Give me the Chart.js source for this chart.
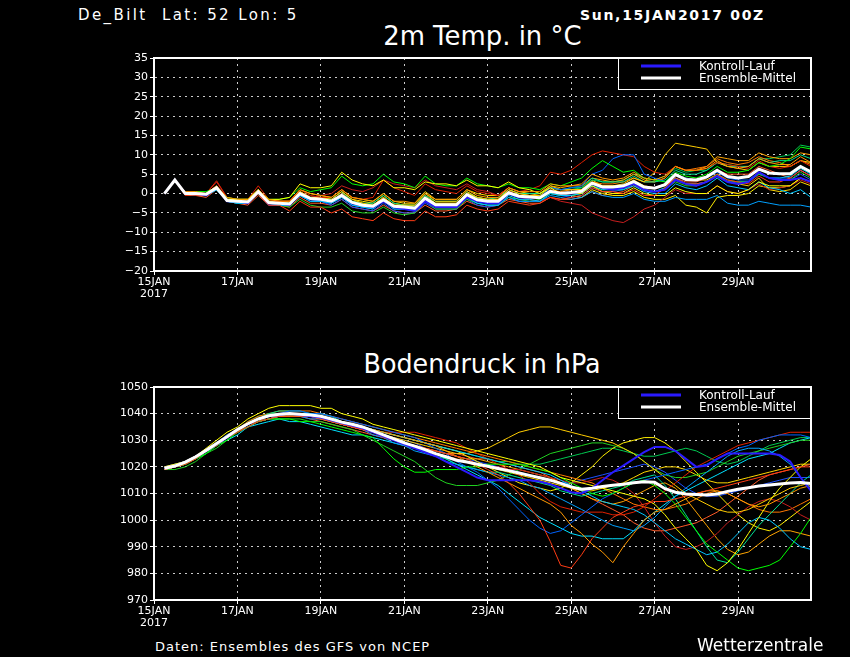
<!DOCTYPE html>
<html>
<head>
<meta charset="utf-8">
<script src="https://cdn.jsdelivr.net/npm/chart.js@4.4.1/dist/chart.umd.min.js"></script>
<style>
  html, body { margin: 0; padding: 0; background: #000; }
  #page { position: relative; width: 850px; height: 657px; background: #000; overflow: hidden;
          font-family: "DejaVu Sans", sans-serif; color: #fff; }
  .txt { position: absolute; white-space: pre; line-height: 1; }
  .title { position: absolute; left: 154px; width: 657px; text-align: center; line-height: 1; font-size: 27px; }
  .title span { display: inline-block; transform-origin: center; }
  canvas { position: absolute; left: 0; }
</style>
</head>
<body>
<div id="page">
  <div class="txt" style="left:78px; top:8px; font-size:15px; letter-spacing:2.4px;">De_Bilt  Lat: 52 Lon: 5</div>
  <div class="txt" style="left:580px; top:8px; font-size:14px; font-weight:bold; letter-spacing:1.7px;">Sun,15JAN2017 00Z</div>
  <div class="title" style="top:22px;"><span style="transform:scaleX(0.96);">2m Temp. in °C</span></div>
  <div class="title" style="top:350px;"><span style="transform:scaleX(0.94);">Bodendruck in hPa</span></div>
  <canvas id="tempChart" width="850" height="270" style="top:40px; width:850px; height:270px;"></canvas>
  <canvas id="pressChart" width="850" height="270" style="top:369px; width:850px; height:270px;"></canvas>
  <div class="txt" style="left:155px; top:640px; font-size:13px; letter-spacing:1px;">Daten: Ensembles des GFS von NCEP</div>
  <div class="txt" style="left:697px; top:637px; font-size:17px;">Wetterzentrale</div>
</div>
<script>
// forecast hours after 15JAN2017 00Z
const hours = [6, 12, 18, 24, 30, 36, 42, 48, 54, 60, 66, 72, 78, 84, 90, 96, 102, 108, 114, 120,
  126, 132, 138, 144, 150, 156, 162, 168, 174, 180, 186, 192, 198, 204, 210, 216, 222, 228, 234, 240,
  246, 252, 258, 264, 270, 276, 282, 288, 294, 300, 306, 312, 318, 324, 330, 336, 342, 348, 354, 360,
  366, 372, 378];
const tickHours = [0, 48, 96, 144, 192, 240, 288, 336];
const tickLabels = [['15JAN', '2017'], '17JAN', '19JAN', '21JAN', '23JAN', '25JAN', '27JAN', '29JAN'];
const legendLabels = ['Kontroll-Lauf', 'Ensemble-Mittel'];

const memberColors = ['#ff3c14', '#ff9900', '#ffff00', '#00ff00', '#00c8ff', '#0064ff', '#e02000',
  '#ffcc00', '#00a0ff', '#00e090', '#c81e1e', '#ff7800', '#20d020', '#ffee00', '#00e0ff', '#ffa500',
  '#1e50ff', '#00c850', '#ff5a28', '#ffd700'];
const controlColor = '#2a1aff';
const meanColor = '#ffffff';

// ---- 2m temperature (deg C) ----
const tempMean = [0, 3.5, 0, 0, -0.2, 1.5, -1.8, -2, -2.2, 0.5, -2.3, -2.5, -2.7, 0, -1.3, -1.5,
  -2, -0.5, -2.3, -3, -3.3, -1.6, -3.3, -3.5, -3.8, -1.2, -2.9, -2.9, -2.9, -0.3, -1.6, -2,
  -2, 0.2, -0.7, -0.9, -1.1, 0.6, 0.1, 0.3, 0.6, 2.7, 1.7, 1.7, 2, 3.1, 1.7, 1.4,
  2.3, 4.9, 3.6, 3.5, 4.3, 6, 4.4, 4, 4.4, 6.3, 5.3, 5.1, 5.1, 7, 5.6];
const tempControl = [0, 3.5, 0, 0, -0.5, 1.5, -2, -2, -2.5, 0.5, -2.5, -2.5, -3, 0, -1.5, -1.5,
  -2, -0.5, -2.5, -3, -3.5, -2, -3.5, -4, -4.5, -2, -3.5, -3.5, -3.5, -1, -2, -2.5,
  -2.5, 0, -1, -1, -1, 0.5, 0, 0, 0.5, 2.5, 1.5, 1, 1.5, 2.5, 1, 0.5,
  1, 3.5, 2.5, 2, 3, 4.5, 3, 2.5, 3, 5.5, 4, 3.5, 3.5, 4, 3];
const temp01 = [0, 3.5, 0, -0.5, -0.5, 1.5, -2, -2, -2.5, 0, -3, -3, -4.5, -2, -3.5, -3.5,
  -5, -4, -6, -6.5, -7, -5, -6.5, -7, -7, -4.5, -6, -6, -5.5, -3, -4, -4.5,
  -4, -2, -2.5, -3, -2.5, -1, -1.5, -1, -0.5, 1.5, 0.5, 0.5, 0, 1, -0.5, -0.5,
  1.5, 4, 2.5, 2.5, 3, 5, 3.5, 3, 2.5, 4.5, 3, 3, 4, 6, 4.5];
const temp02 = [0, 3.5, 0.5, 0.5, 0, 2, -1, -1.5, -1.5, 1, -1.5, -2, -2, 1, 0, -0.5,
  -1, 1, -1, -1.5, -2, 0, -2, -2, -2.5, 0, -1.5, -1.5, -1.5, 1, -0.5, -1,
  -1, 1.5, 0.5, 0.5, 0.5, 2.5, 2, 2, 2.5, 5, 4, 3.5, 4, 5.5, 4, 3.5,
  4.5, 7, 6, 6, 6.5, 8.5, 7, 6.5, 7, 9, 8, 7.5, 7.5, 9.5, 8];
const temp03 = [0, 3.5, 0, 0, 0, 1.5, -1.5, -1.5, -1.5, 1, -1.5, -1.5, -1, 2.5, 1.5, 1.5,
  2, 5.5, 3.5, 2.5, 2, 3.5, 1.5, 1.5, 1, 3, 2.5, 2.5, 2, 3.5, 2, 2,
  1.5, 3, 1.5, 1, 0, 1.5, 0, 0, 0, 2, 0.5, 0, 0, 1.5, 0, -0.5,
  -0.5, 1.5, 0.5, 0, 0, 2, 0.5, 0, 1, 3, 2, 2, 2, 4, 3];
const temp04 = [0, 3.5, 0, 0.5, 0.5, 1.5, -1, -1.5, -1.5, 1, -1.5, -1.5, -1, 1.5, 0.5, 1,
  1.5, 4.5, 2.5, 2, 2.5, 5, 3, 2.5, 1.5, 4.5, 2.5, 2, 2, 4, 2.5, 2,
  1.5, 2.5, 1.5, 1.5, 1, 2.5, 2, 3, 4, 6.5, 8.5, 7, 5.5, 6, 4, 3.5,
  3, 5.5, 4.5, 4, 5, 7, 5.5, 5.5, 6, 8, 7, 7.5, 9, 12, 11.5];
const temp05 = [0, 3.5, 0, 0, -0.5, 1, -2, -2.5, -2.5, 0, -2.5, -3, -3, -0.5, -2, -2,
  -2.5, -1, -3, -3.5, -4, -2, -4, -4, -4.5, -2, -3.5, -3.5, -3.5, -1, -2.5, -3,
  -3, -0.5, -1.5, -1.5, -2, 0, -0.5, -0.5, 0, 2, 1, 1, 1, 2, 0.5, 0,
  0, 2.5, 1.5, 1, 2, 4, 2, 1.5, 1, 3, 1.5, 1, 0, 1, -1];
const temp06 = [0, 3.5, 0, 0, -0.5, 1.5, -2, -2, -2.5, 0.5, -2.5, -2.5, -3, 0, -1.5, -2,
  -2.5, -1, -3, -3.5, -4, -2, -4, -4, -4, -1.5, -3.5, -3.5, -3.5, -1, -2, -2.5,
  -2.5, 0, -1, -1, -1, 1.5, 1, 1.5, 2, 5, 6, 9, 10, 10, 5, 4,
  3, 5, 4, 3.5, 4, 5.5, 4, 3.5, 3.5, 5.5, 4, 4, 4, 6, 4.5];
const temp07 = [0, 3.5, -0.5, 0, 0, 3.3, -1, -1.5, -1.5, 2, -1.5, -2, -2, 1, -0.5, -1,
  -1, 1, -1, -1.5, -1, 3.5, 1.5, 0.5, -0.5, 2.5, 1, 0.5, 0, 2, 0.5, 0,
  -0.5, 1.5, 0.5, 1, 2, 5.5, 5, 6, 8, 10, 11, 10.5, 10, 9.5, 7, 5.5,
  5, 7, 6, 6, 6.5, 8, 7.5, 7, 6.5, 8.5, 7, 6.5, 7, 8.5, 7];
const temp08 = [0, 3.5, 0, 0, -0.5, 1.5, -2, -2, -2, 0.5, -2, -2.5, -2.5, 0.5, -1, -1,
  -1.5, 0.5, -1.5, -2.5, -3, -1, -3, -3, -3, 0, -2, -2, -2, 0.5, -1, -1.5,
  -1.5, 1, 0, -0.5, -0.5, 1.5, 1, 1, 1, 3, 2, 2, 2.5, 4, 3, 5.5,
  10, 13, 12.5, 12, 11.5, 8, 7, 6.5, 6, 8, 7, 7, 7, 8.5, 8];
const temp09 = [0, 3.5, 0, -0.5, -0.5, 1, -2, -2.5, -2.5, 0, -2.5, -3, -3, -0.5, -2, -2,
  -2.5, -1, -3, -3.5, -3.5, -2, -3.5, -4, -4, -1.5, -3.5, -3.5, -3.5, -1, -2.5, -3,
  -3, -1, -2, -2, -2, -0.5, -1, -1.5, -1, 0.5, -0.5, -1, -1, 0, -1.5, -2,
  -2, -1, -1.5, -1.5, -1.5, -0.5, -2.5, -3, -3, -2, -2.5, -3, -3, -3, -3.5];
const temp10 = [0, 3.5, 0, 0, 0, 1.5, -1.5, -2, -2, 0.5, -2, -2.5, -2.5, 0, -1, -1,
  -1.5, 0.5, -2, -2.5, -2.5, -0.5, -2.5, -3, -3, -0.5, -2, -2, -2, 0.5, -1, -1.5,
  -1, 1, 0, 0, 0, 1.5, 1, 1.5, 1.5, 4, 3, 3, 3, 4.5, 3, 3,
  3.5, 6, 5, 5, 6, 8, 7, 7, 7, 9, 8, 8.5, 8.5, 10, 9];
const temp11 = [0, 3.5, 0, 0, 0, 3, -1, -1.5, -2, 1, -2, -2, -2, 0.5, -1, -0.5,
  0, 2, 1, 0.5, 1.5, 3.5, 2.5, 2, 1.5, 3.5, 2, 1.5, 1, 2.5, 1, 0.5,
  -0.5, 1, -1, -1.5, -2, -1, -2, -2.5, -3, -5, -6, -7, -7.5, -6, -4, -3,
  -1, 1, 0, 0, 0, 2, 0.5, 0, 1, 2.5, 1, 1.5, 2, 3.5, 2.5];
const temp12 = [0, 3.5, 0, 0, -0.5, 1.5, -2, -2, -2.5, 0.5, -2.5, -2.5, -3, 0, -1.5, -2,
  -2, 0, -2, -3, -3.5, -1.5, -3, -3.5, -4, -1, -3, -3, -3, 0, -1.5, -2,
  -2, 0.5, -0.5, -1, -1, 1, 0.5, 1, 1, 3, 2.5, 2.5, 3, 4, 3, 3,
  4, 7, 6, 6.5, 7, 9, 8, 7.5, 8, 9.5, 8.5, 8, 7, 8.5, 7.5];
const temp13 = [0, 3.5, 0, 0, -0.5, 1, -2, -2.5, -2.5, 0, -2.5, -3, -3.5, -1.5, -3, -3.5,
  -3.5, -2.5, -4.5, -5, -5, -3.5, -5, -5.5, -5, -2, -4, -4, -4, -1.5, -2.5, -3,
  -3, -1, -1.5, -2, -1.5, 0, -0.5, -0.5, 0, 2, 1, 1, 1, 2.5, 1, 0.5,
  1, 3, 2, 2, 3, 5, 3.5, 3, 3, 5, 4, 3.5, 3.5, 5.5, 4];
const temp14 = [0, 3.5, 0, 0, 0, 1.5, -1.5, -2, -2, 0.5, -2, -2, -2, 0.5, -1, -1,
  -1.5, 0.5, -1.5, -2, -2.5, -0.5, -2.5, -3, -3, -0.5, -2.5, -2.5, -2.5, 0, -1, -1.5,
  -1.5, 0.5, -0.5, -1, -1, 0.5, 0, -0.5, -1, 1, 0, -0.5, -0.5, 0.5, -1, -1.5,
  -1.5, -0.5, -3, -3.5, -5, -1, -0.5, -0.5, 0, 2, 1.5, 1.5, 2, 4, 3];
const temp15 = [0, 3.5, 0, 0, -0.5, 1.5, -2, -2, -2, 0.5, -2.5, -2.5, -2.5, 0.5, -1, -1,
  -2, 0, -2, -3, -3, -1.5, -3, -3.5, -3.5, -1, -3, -3, -3, 0, -1.5, -2,
  -2, 0, -1, -1, -1, 0.5, 0, 0, 0.5, 2.5, 1.5, 1.5, 1.5, 2.5, 1, 0.5,
  1.5, 4, 2.5, 2.5, 3, 5, 3, 3, 3, 5.5, 4, 4, 4.5, 6.5, 5];
const temp16 = [0, 3.5, 0, 0, 0, 2, -1.5, -1.5, -2, 1, -2, -2, -2.5, 0.5, -1, -1,
  -2, -0.5, -2, -2.5, -3, -1, -3, -3, -3.5, -1, -2.5, -2.5, -2.5, 0, -1, -1.5,
  -1.5, 1, 0, -0.5, 0, 2, 1.5, 2, 2, 4, 3.5, 3, 3.5, 5, 3.5, 3,
  4, 7, 6, 6, 7, 9.5, 9, 8.5, 8.5, 10.5, 9.5, 9, 9, 10.5, 10];
const temp17 = [0, 3.5, 0, 0, -0.5, 1, -2, -2.5, -2.5, 0, -3, -3, -3, -0.5, -2, -2,
  -3, -1.5, -3.5, -4, -4.5, -2.5, -4.5, -5, -5, -2.5, -4, -4, -4, -1.5, -3, -3.5,
  -3, -1, -2, -2, -2, 0, -0.5, -1, -0.5, 1.5, 0.5, 0.5, 1, 2.5, 1, 0.5,
  1, 3.5, 2.5, 2, 3, 4.5, 3, 2.5, 3, 5, 4, 3.5, 3.5, 5, 3.5];
const temp18 = [0, 3.5, 0, 0, 0, 1.5, -1.5, -2, -2, 1, -2, -2, -2.5, 0, -1.5, -1.5,
  -2, -0.5, -2.5, -3, -3.5, -1.5, -3.5, -4, -4, -1.5, -3, -3, -3, 0, -1.5, -2,
  -2, 0.5, -0.5, -0.5, -0.5, 1.5, 1, 1, 1.5, 3.5, 3, 3, 3.5, 5, 4, 3.5,
  4.5, 6.5, 5.5, 6, 6, 8, 7.5, 7, 7, 9, 9, 9.5, 10, 12.5, 12];
const temp19 = [0, 3.5, -0.5, -0.5, -1, 1, -2, -2.5, -3, -0.5, -3, -3, -3.5, -1, -2.5, -2.5,
  -3, -1.5, -3.5, -4, -4.5, -3, -4.5, -5, -5, -3, -4.5, -4.5, -4, -2, -3, -3.5,
  -3, -1.5, -2, -2.5, -2.5, -1, -1.5, -1.5, -1, 0.5, -0.5, 0, 0.5, 2, 1, 1.5,
  2, 4, 3, 3, 4, 6, 5, 5, 5, 7, 6, 5, 4, 6, 4.5];
const temp20 = [0, 3.5, 0, 0, 0, 1.5, -1.5, -1.5, -1.5, 1, -2, -2, -2, 1, 0, -0.5,
  -1, 1, -1, -1.5, -2, 0, -2, -2.5, -2.5, 0.5, -1.5, -1.5, -1.5, 1, 0, -0.5,
  -0.5, 1.5, 0.5, 0, 0, 2, 1, 1, 1, 3.5, 2, 2, 2, 3.5, 2, 1.5,
  2.5, 5, 4, 3.5, 3.5, 5, 3, 2.5, 2, 4, 1, 0.5, 1, 3, 2];
const tempMembers = [temp01, temp02, temp03, temp04, temp05, temp06, temp07, temp08, temp09, temp10,
  temp11, temp12, temp13, temp14, temp15, temp16, temp17, temp18, temp19, temp20];

// ---- surface pressure (hPa) ----
const pressMean = [1019.5, 1020.3, 1021.8, 1023.8, 1026.2, 1028.8, 1031.3, 1034,
  1036.2, 1038, 1039.2, 1039.8, 1040, 1039.8, 1039.5, 1039, 1038, 1036.8, 1036, 1035,
  1033.5, 1032, 1030.5, 1029, 1027.8, 1026.5, 1025, 1023.8, 1022.5, 1021.8, 1021, 1020.2,
  1019.4, 1018.6, 1017.7, 1016.8, 1015.9, 1015, 1013.8, 1012.5, 1011.6, 1012, 1012.6, 1013.1,
  1013.5, 1014, 1014.4, 1014.2, 1011.8, 1010.5, 1009.8, 1009.6, 1009.4, 1009.8, 1010.8, 1011.6,
  1012.2, 1012.8, 1013.2, 1013.6, 1013.9, 1014.1, 1013.8];
const pressControl = [1019.5, 1020.3, 1021.8, 1023.8, 1026, 1028.5, 1031, 1034,
  1036, 1038, 1039, 1039.5, 1040, 1039.5, 1039, 1038.5, 1037.5, 1036.5, 1035.5, 1034.5,
  1033, 1031.5, 1030, 1028.5, 1027, 1025.5, 1024, 1022, 1020, 1018, 1016, 1015,
  1015, 1015, 1015, 1015, 1014.5, 1013.5, 1012, 1010.5, 1010, 1012, 1015, 1018,
  1020.5, 1023, 1025.5, 1027.5, 1027.5, 1026, 1023, 1020, 1020.5, 1023, 1025, 1025,
  1025, 1025, 1025, 1024.5, 1022, 1016, 1011];
const press01 = [1019, 1020, 1021, 1023, 1026, 1028, 1031, 1033, 1035, 1037, 1038, 1039,
  1039, 1039, 1039, 1038, 1037, 1036, 1035, 1034, 1033, 1031, 1030, 1029, 1028, 1027, 1026, 1025,
  1024, 1023, 1021, 1019, 1017, 1014, 1010, 1005, 1000, 992, 983, 982, 987, 993, 997, 1001,
  1003, 1005, 1006, 1007, 1007, 1008, 1009, 1010, 1011, 1012, 1013, 1014, 1015, 1016, 1017, 1018,
  1019, 1020, 1020];
const press02 = [1019, 1020, 1022, 1024, 1026, 1029, 1031, 1034, 1036, 1038, 1039, 1040,
  1040, 1040, 1039, 1039, 1038, 1037, 1036, 1035, 1034, 1033, 1032, 1031, 1030, 1029, 1028, 1026,
  1024, 1022, 1020, 1018, 1016, 1014, 1012, 1010, 1008, 1006, 1003, 998, 995, 991, 988, 984,
  990, 995, 1000, 1003, 1004, 1006, 1008, 1010, 1011, 1011, 1010, 1008, 1006, 1005, 1006, 1008,
  1010, 1012, 1013];
const press03 = [1020, 1021, 1022, 1024, 1027, 1030, 1033, 1035, 1038, 1040, 1042, 1043,
  1043, 1043, 1043, 1042, 1042, 1040, 1039, 1038, 1036, 1035, 1034, 1033, 1032, 1031, 1030, 1029,
  1028, 1027, 1026, 1025, 1024, 1023, 1022, 1021, 1020, 1018, 1016, 1015, 1014, 1013, 1012, 1011,
  1010, 1009, 1008, 1006, 1002, 997, 993, 989, 983, 981, 984, 989, 995, 1001, 1007, 1012,
  1016, 1020, 1023];
const press04 = [1019, 1020, 1021, 1023, 1025, 1028, 1030, 1033, 1035, 1037, 1038, 1038,
  1038, 1037, 1037, 1036, 1035, 1034, 1033, 1032, 1031, 1027, 1023, 1020, 1018, 1018, 1019, 1019,
  1019, 1020, 1020, 1021, 1021, 1021, 1021, 1020, 1019, 1018, 1016, 1014, 1012, 1010, 1009, 1010,
  1012, 1014, 1015, 1013, 1010, 1006, 1001, 996, 991, 988, 985, 982, 981, 982, 983, 985,
  990, 995, 1001];
const press05 = [1019, 1020, 1022, 1024, 1026, 1029, 1031, 1034, 1036, 1038, 1039, 1040,
  1040, 1040, 1040, 1039, 1038, 1037, 1036, 1035, 1034, 1033, 1032, 1031, 1030, 1029, 1028, 1027,
  1026, 1025, 1024, 1023, 1022, 1021, 1020, 1019, 1018, 1017, 1015, 1013, 1011, 1009, 1007, 1006,
  1005, 1004, 1002, 999, 996, 993, 991, 989, 987, 988, 991, 995, 999, 1001, 1000, 997,
  993, 990, 989];
const press06 = [1020, 1021, 1022, 1024, 1026, 1029, 1032, 1034, 1036, 1038, 1039, 1040,
  1041, 1041, 1040, 1040, 1039, 1038, 1037, 1036, 1035, 1034, 1033, 1032, 1031, 1029, 1027, 1025,
  1022, 1020, 1018, 1015, 1012, 1008, 1004, 1000, 997, 995, 996, 999, 1002, 1005, 1008, 1010,
  1012, 1014, 1015, 1016, 1017, 1018, 1019, 1020, 1021, 1023, 1025, 1027, 1028, 1030, 1031, 1032,
  1032, 1032, 1031];
const press07 = [1019, 1020, 1021, 1023, 1026, 1028, 1031, 1033, 1036, 1038, 1039, 1040,
  1040, 1040, 1039, 1039, 1038, 1036, 1035, 1034, 1034, 1033, 1033, 1033, 1033, 1032, 1031, 1030,
  1029, 1027, 1025, 1023, 1021, 1019, 1017, 1014, 1010, 1007, 1005, 1004, 1003, 1003, 1003, 1002,
  1002, 1003, 1005, 1008, 1011, 1014, 1017, 1020, 1022, 1024, 1026, 1028, 1029, 1030, 1031, 1032,
  1033, 1033, 1033];
const press08 = [1019, 1020, 1022, 1024, 1026, 1029, 1031, 1034, 1036, 1038, 1039, 1039,
  1039, 1039, 1039, 1038, 1037, 1036, 1035, 1034, 1033, 1032, 1031, 1030, 1029, 1028, 1027, 1026,
  1025, 1025, 1026, 1027, 1029, 1031, 1033, 1034, 1035, 1035, 1034, 1033, 1032, 1031, 1030, 1029,
  1027, 1025, 1022, 1019, 1016, 1013, 1010, 1008, 1006, 1004, 1003, 1003, 1004, 1006, 1008, 1010,
  1012, 1013, 1014];
const press09 = [1019, 1020, 1021, 1023, 1026, 1028, 1031, 1033, 1035, 1037, 1038, 1039,
  1039, 1039, 1038, 1038, 1037, 1036, 1035, 1034, 1032, 1031, 1029, 1028, 1026, 1025, 1024, 1022,
  1021, 1020, 1019, 1018, 1017, 1016, 1015, 1013, 1012, 1010, 1008, 1006, 1004, 1002, 1000, 998,
  997, 996, 998, 1001, 1005, 1009, 1012, 1015, 1018, 1021, 1024, 1026, 1027, 1027, 1026, 1024,
  1021, 1016, 1012];
const press10 = [1019, 1020, 1021, 1023, 1026, 1028, 1031, 1034, 1036, 1038, 1040, 1041,
  1041, 1041, 1040, 1040, 1039, 1037, 1036, 1035, 1034, 1032, 1030, 1029, 1027, 1026, 1024, 1023,
  1021, 1020, 1019, 1018, 1018, 1017, 1016, 1015, 1014, 1013, 1011, 1010, 1009, 1010, 1011, 1012,
  1013, 1015, 1016, 1017, 1013, 1008, 1002, 996, 990, 985, 984, 988, 993, 998, 1002, 1006,
  1010, 1014, 1017];
const press11 = [1019, 1020, 1021, 1023, 1026, 1028, 1031, 1033, 1036, 1037, 1039, 1039,
  1039, 1039, 1038, 1038, 1037, 1036, 1035, 1034, 1032, 1031, 1030, 1028, 1027, 1026, 1025, 1024,
  1023, 1022, 1021, 1020, 1020, 1019, 1019, 1018, 1017, 1016, 1015, 1014, 1014, 1015, 1016, 1015,
  1013, 1010, 1005, 999, 994, 990, 989, 990, 992, 995, 999, 1002, 1005, 1007, 1008, 1007,
  1005, 1002, 1000];
const press12 = [1020, 1021, 1022, 1024, 1026, 1029, 1032, 1034, 1037, 1039, 1040, 1041,
  1041, 1041, 1041, 1040, 1039, 1038, 1037, 1036, 1035, 1034, 1033, 1032, 1031, 1030, 1029, 1028,
  1027, 1026, 1025, 1024, 1023, 1022, 1021, 1020, 1019, 1018, 1017, 1016, 1015, 1014, 1012, 1010,
  1008, 1006, 1005, 1004, 1004, 1005, 1006, 1008, 1010, 1011, 1010, 1008, 1006, 1004, 1003, 1003,
  1004, 1006, 1008];
const press13 = [1019, 1019, 1020, 1022, 1025, 1027, 1030, 1033, 1035, 1037, 1038, 1038,
  1038, 1038, 1037, 1037, 1036, 1035, 1034, 1032, 1030, 1028, 1026, 1024, 1022, 1019, 1016, 1014,
  1013, 1013, 1013, 1014, 1015, 1017, 1019, 1021, 1023, 1025, 1026, 1027, 1028, 1029, 1029, 1028,
  1027, 1025, 1022, 1019, 1017, 1016, 1016, 1017, 1018, 1020, 1022, 1024, 1025, 1026, 1027, 1028,
  1029, 1030, 1030];
const press14 = [1019, 1020, 1022, 1024, 1026, 1029, 1031, 1034, 1036, 1038, 1039, 1040,
  1040, 1040, 1039, 1039, 1038, 1037, 1036, 1035, 1034, 1033, 1032, 1031, 1030, 1029, 1028, 1027,
  1026, 1024, 1022, 1020, 1018, 1016, 1014, 1013, 1012, 1011, 1012, 1014, 1017, 1020, 1024, 1027,
  1029, 1030, 1031, 1031, 1029, 1026, 1022, 1018, 1014, 1010, 1006, 1002, 999, 997, 996, 998,
  1001, 1004, 1007];
const press15 = [1019, 1020, 1021, 1023, 1025, 1028, 1030, 1032, 1035, 1036, 1037, 1038,
  1037, 1037, 1036, 1035, 1034, 1033, 1032, 1032, 1031, 1030, 1029, 1028, 1027, 1026, 1025, 1023,
  1021, 1019, 1017, 1015, 1013, 1010, 1007, 1004, 1001, 999, 997, 995, 994, 994, 993, 993,
  993, 996, 1000, 1003, 1006, 1009, 1011, 1013, 1015, 1017, 1019, 1021, 1023, 1024, 1025, 1027,
  1029, 1030, 1031];
const press16 = [1019, 1020, 1021, 1023, 1026, 1028, 1031, 1033, 1035, 1037, 1038, 1039,
  1039, 1039, 1039, 1038, 1037, 1036, 1035, 1034, 1033, 1032, 1031, 1029, 1028, 1027, 1026, 1025,
  1024, 1023, 1023, 1022, 1021, 1020, 1019, 1018, 1017, 1016, 1014, 1012, 1010, 1008, 1007, 1006,
  1007, 1009, 1011, 1013, 1014, 1012, 1008, 1003, 998, 993, 989, 987, 988, 991, 994, 996,
  996, 995, 994];
const press17 = [1019, 1020, 1022, 1024, 1026, 1029, 1031, 1034, 1036, 1038, 1039, 1040,
  1040, 1040, 1040, 1039, 1038, 1037, 1036, 1035, 1034, 1032, 1031, 1030, 1029, 1027, 1026, 1025,
  1024, 1023, 1022, 1021, 1020, 1019, 1018, 1017, 1016, 1015, 1014, 1014, 1015, 1016, 1017, 1018,
  1019, 1020, 1021, 1020, 1018, 1015, 1012, 1010, 1009, 1009, 1010, 1011, 1012, 1013, 1014, 1015,
  1016, 1016, 1016];
const press18 = [1019, 1020, 1022, 1024, 1026, 1029, 1032, 1034, 1037, 1039, 1040, 1040,
  1040, 1040, 1040, 1039, 1038, 1037, 1036, 1035, 1034, 1033, 1032, 1031, 1030, 1029, 1028, 1027,
  1026, 1025, 1024, 1023, 1022, 1022, 1021, 1021, 1021, 1022, 1023, 1024, 1025, 1026, 1027, 1027,
  1026, 1025, 1024, 1024, 1025, 1026, 1027, 1026, 1024, 1022, 1021, 1022, 1024, 1026, 1028, 1029,
  1030, 1031, 1031];
const press19 = [1019, 1020, 1021, 1023, 1026, 1028, 1031, 1033, 1036, 1037, 1038, 1039,
  1039, 1039, 1038, 1037, 1036, 1035, 1034, 1033, 1032, 1031, 1030, 1029, 1028, 1027, 1026, 1025,
  1025, 1024, 1023, 1023, 1022, 1021, 1020, 1019, 1018, 1016, 1014, 1012, 1010, 1008, 1006, 1004,
  1002, 999, 997, 996, 996, 997, 998, 999, 1001, 1003, 1006, 1009, 1012, 1015, 1017, 1018,
  1019, 1020, 1021];
const press20 = [1019, 1020, 1021, 1023, 1026, 1028, 1031, 1034, 1036, 1038, 1039, 1039,
  1040, 1040, 1039, 1039, 1038, 1036, 1035, 1034, 1033, 1032, 1030, 1029, 1028, 1026, 1025, 1024,
  1023, 1022, 1021, 1020, 1019, 1018, 1017, 1016, 1015, 1014, 1013, 1012, 1011, 1011, 1012, 1013,
  1014, 1016, 1018, 1019, 1020, 1020, 1019, 1017, 1015, 1014, 1014, 1015, 1016, 1017, 1018, 1019,
  1020, 1021, 1021];
const pressMembers = [press01, press02, press03, press04, press05, press06, press07, press08, press09, press10,
  press11, press12, press13, press14, press15, press16, press17, press18, press19, press20];

Chart.defaults.font.family = '"DejaVu Sans", sans-serif';
Chart.defaults.font.size = 11;
Chart.defaults.color = '#ffffff';

function series(vals, color, width) {
  return {
    data: vals.map((v, i) => ({ x: hours[i], y: v })),
    borderColor: color,
    borderWidth: width,
    pointRadius: 0,
    tension: 0,
    fill: false
  };
}

// white frame round the plot plus the small legend box in the upper right corner
const panelFrame = {
  id: 'panelFrame',
  afterDraw(chart) {
    const { ctx, chartArea: a } = chart;
    const bw = 193, bh = 31;
    const bx = a.right - bw, by = a.top;
    ctx.save();
    ctx.fillStyle = '#000';
    ctx.fillRect(bx, by, bw, bh);
    ctx.strokeStyle = '#fff';
    ctx.lineWidth = 1;
    ctx.strokeRect(bx + 0.5, by + 0.5, bw, bh);
    ctx.lineWidth = 3;
    ctx.strokeStyle = controlColor;
    ctx.beginPath(); ctx.moveTo(bx + 23, by + 8); ctx.lineTo(bx + 63, by + 8); ctx.stroke();
    ctx.strokeStyle = meanColor;
    ctx.beginPath(); ctx.moveTo(bx + 23, by + 20); ctx.lineTo(bx + 63, by + 20); ctx.stroke();
    ctx.fillStyle = '#fff';
    ctx.font = '12px "DejaVu Sans"';
    ctx.textBaseline = 'middle';
    ctx.fillText(legendLabels[0], bx + 81, by + 9);
    ctx.fillText(legendLabels[1], bx + 81, by + 21);
    ctx.lineWidth = 2;
    ctx.strokeRect(a.left, a.top, a.right - a.left, a.bottom - a.top);
    ctx.restore();
  }
};

function makeChart(id, mean, control, members, yMin, yMax, yStep) {
  const datasets = [series(mean, meanColor, 3), series(control, controlColor, 2)];
  members.forEach((m, i) => datasets.push(series(m, memberColors[i], 1)));
  const grid = { color: '#cccccc', lineWidth: 1, tickColor: '#ffffff', tickLength: 4 };
  const border = { color: '#ffffff', width: 2, dash: [2, 4] };
  return new Chart(document.getElementById(id), {
    type: 'line',
    data: { datasets },
    options: {
      responsive: false,
      animation: false,
      devicePixelRatio: 1,
      layout: { padding: { top: 18, right: 39, left: 0, bottom: 0 } },
      plugins: { legend: { display: false }, tooltip: { enabled: false } },
      scales: {
        x: {
          type: 'linear', min: 0, max: 378,
          afterBuildTicks: s => { s.ticks = tickHours.map(v => ({ value: v })); },
          afterFit: s => { s.height = 39; },
          ticks: { padding: 1, maxRotation: 0, autoSkip: false, font: { lineHeight: 1.1 },
                   callback: v => tickLabels[tickHours.indexOf(v)] },
          grid, border
        },
        y: {
          min: yMin, max: yMax,
          afterFit: s => { s.width = 154; },
          ticks: { stepSize: yStep, padding: 2, callback: v => (v < 0 ? '\u2212' + (-v) : String(v)) },
          grid, border
        }
      }
    },
    plugins: [panelFrame]
  });
}

makeChart('tempChart', tempMean, tempControl, tempMembers, -20, 35, 5);
makeChart('pressChart', pressMean, pressControl, pressMembers, 970, 1050, 10);
</script>
</body>
</html>
